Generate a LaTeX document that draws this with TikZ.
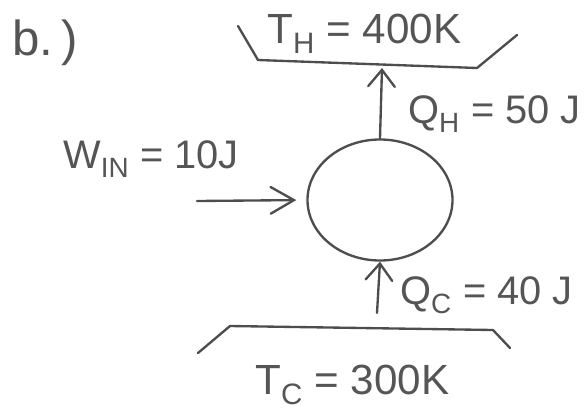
\documentclass[tikz,border=0pt]{standalone}
\usepackage{fontspec}
\setmainfont{Liberation Sans}
\usetikzlibrary{positioning,arrows.meta,calc,shapes.geometric}
\definecolor{hpLine}{HTML}{4D4D4D}
\definecolor{hpText}{HTML}{555555}
\tikzset{
  reservoir/.style={draw=hpLine, line width=2pt, line join=round, line cap=round},
  pumpnode/.style={
    draw=hpLine, line width=2pt, ellipse, inner sep=0pt,
    minimum width=4.35cm, minimum height=3.63cm},
  flow/.style={draw=hpLine, line width=2pt, line cap=round,
    -{Straight Barb[length=#1, width=0.8cm, line cap=round]}},
  flow/.default=0.5cm,
  hand/.style={text=hpText, inner sep=0pt, anchor=base west,
    font=\fontsize{#1}{#1}\selectfont},
  hand/.default=34pt,
}

\begin{document}
\begin{tikzpicture}[x=0.03cm, y=-0.03cm]
\useasboundingbox (0,0) rectangle (587,413);

\node[hand=42pt] (part) at (12,55) {b.\,)};

% hot reservoir
\draw[reservoir] (238,26) -- (258,60) -- (477,68) -- (517,35);
\coordinate (hotin) at (382,68);
\node[hand=36pt] (TH) at (267,43) {T\textsubscript{H} = 400K};

% cold reservoir
\draw[reservoir] (198,353) -- (230,326) -- (493,330) -- (510,348);
\coordinate (coldout) at (377,313);
\node[hand=36pt] (TC) at (255,394) {T\textsubscript{C} = 300K};

\node[pumpnode] (pump) at (380,200) {};

\draw[flow] (pump.north) -- (hotin);
\draw[flow] (coldout) -- (pump.south);

\coordinate (work) at (197,201);
\draw[flow=0.7cm, shorten >=0.3cm] (work) -- (pump.west);

\node[hand] (QH) at (408,123) {Q\textsubscript{H} = 50 J};
\node[hand] (Win) at (63,168) {W\textsubscript{IN} = 10J};
\node[hand] (QC) at (400,304) {Q\textsubscript{C} = 40 J};

\end{tikzpicture}
\end{document}
